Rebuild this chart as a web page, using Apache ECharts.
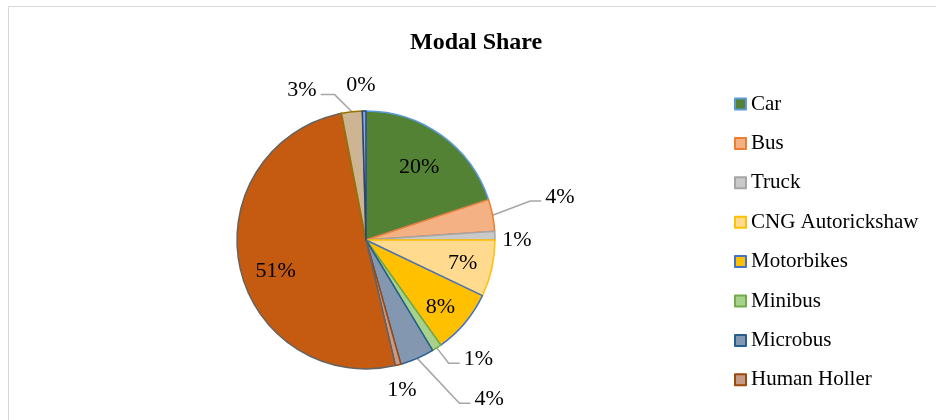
<!DOCTYPE html>
<html>
<head>
<meta charset="utf-8">
<script src="https://cdn.jsdelivr.net/npm/echarts@6/dist/echarts.min.js"></script>
<style>
  html, body { margin: 0; padding: 0; background: #ffffff; }
  #chart { width: 936px; height: 420px; }
</style>
</head>
<body>
<div id="chart"></div>
<script>
// ---- data ----
const chartTitle = 'Modal Share';
const categories = ['Car', 'Bus', 'Truck', 'CNG Autorickshaw', 'Motorbikes', 'Minibus',
                    'Microbus', 'Human Holler', 'Other mode A', 'Other mode B', 'Other mode C'];
const legendNames = ['Car', 'Bus', 'Truck', 'CNG Autorickshaw', 'Motorbikes', 'Minibus',
                     'Microbus', 'Human Holler'];
const shares = [20.0, 4.0, 1.1, 7.1, 8.1, 1.2, 4.3, 0.7, 50.8, 2.6, 0.45];

// ---- styles ----
const fillColors = ['#548235', '#F4B183', '#C9C9C9', '#FFDA8F', '#FFC000', '#A9D18E',
                    '#8497B0', '#C49A88', '#C55A11', '#CDB593', '#8FAADC'];
const borderColors = ['#5B9BD5', '#ED7D31', '#A5A5A5', '#FFC000', '#4472C4', '#70AD47',
                      '#255E91', '#9E480E', '#636363', '#997300', '#264478'];
// label placement: angle (deg, clockwise from 12 o'clock), radius factor, leader line
const labelSpots = [
  { a: 36,    k: 0.70 },
  { a: 77.5,  k: 1.54, line: true },
  { a: 90,    k: 1.17 },
  { a: 103.5, k: 0.77 },
  { a: 132,   k: 0.775 },
  { a: 136.7, k: 1.27, line: true },
  { a: 142.3, k: 1.56, line: true },
  { a: 166.6, k: 1.20 },
  { a: 251,   k: 0.74 },
  { a: 336.8, k: 1.26, line: true },
  { a: 358.1, k: 1.20 }
];

const CX = 366, CY = 240, R = 129;
const FONT = '"Liberation Serif", "Times New Roman", serif';

const total = shares.reduce((s, v) => s + v, 0);
const midAngles = [];
(function () {
  let acc = 0;
  shares.forEach(v => {
    midAngles.push((acc + v / 2) / total * 360);
    acc += v;
  });
})();
function polar(angDeg, rad) {
  const t = angDeg * Math.PI / 180;
  return [CX + rad * Math.sin(t), CY - rad * Math.cos(t)];
}

const chart = echarts.init(document.getElementById('chart'), null, { renderer: 'canvas' });

const option = {
  backgroundColor: '#ffffff',
  animation: false,
  title: {
    text: chartTitle,
    left: 410,
    top: 31,
    padding: 0,
    textStyle: { fontFamily: FONT, fontSize: 24, fontWeight: 'bold', color: '#000000', lineHeight: 24 }
  },
  legend: {
    data: legendNames,
    orient: 'vertical',
    left: 734,
    top: 93.5,
    padding: 0,
    itemWidth: 11,
    itemHeight: 11,
    itemGap: 18.4,
    icon: 'rect',
    selectedMode: false,
    textStyle: { fontFamily: FONT, fontSize: 21, color: '#000000', lineHeight: 21 }
  },
  graphic: [{
    type: 'rect',
    silent: true,
    shape: { x: 8.5, y: 6.5, width: 1200, height: 1200 },
    style: { fill: 'none', stroke: '#D9D9D9', lineWidth: 1 }
  }],
  series: [{
    type: 'pie',
    center: [CX, CY],
    radius: R,
    startAngle: 90,
    clockwise: true,
    avoidLabelOverlap: false,
    data: categories.map((name, i) => ({
      name: name,
      value: shares[i],
      itemStyle: { color: fillColors[i], borderColor: borderColors[i], borderWidth: 1.5 },
      labelLine: { show: !!labelSpots[i].line }
    })),
    label: {
      show: true,
      position: 'outside',
      fontFamily: FONT,
      fontSize: 22,
      color: '#000000',
      formatter: p => Math.round(p.percent) + '%'
    },
    labelLine: {
      show: true,
      lineStyle: { color: '#A6A6A6', width: 1.5 }
    },
    emphasis: { disabled: true },
    labelLayout: function (params) {
      const i = params.dataIndex;
      const spot = labelSpots[i];
      const pos = polar(spot.a, spot.k * R);
      const res = { x: pos[0], y: pos[1], align: 'center', verticalAlign: 'middle' };
      if (spot.line) {
        const w = params.labelRect.width;
        const start = polar(midAngles[i], R);
        const ly = pos[1] + 4;
        let end, elbow;
        if (spot.a < 180) {
          end = [pos[0] - w / 2 - 4, ly];
          elbow = [end[0] - 11, ly];
        } else {
          end = [pos[0] + w / 2 + 4, ly];
          elbow = [end[0] + 14, ly];
        }
        res.labelLinePoints = [start, elbow, end];
      }
      return res;
    }
  }]
};
chart.setOption(option);
</script>
</body>
</html>
